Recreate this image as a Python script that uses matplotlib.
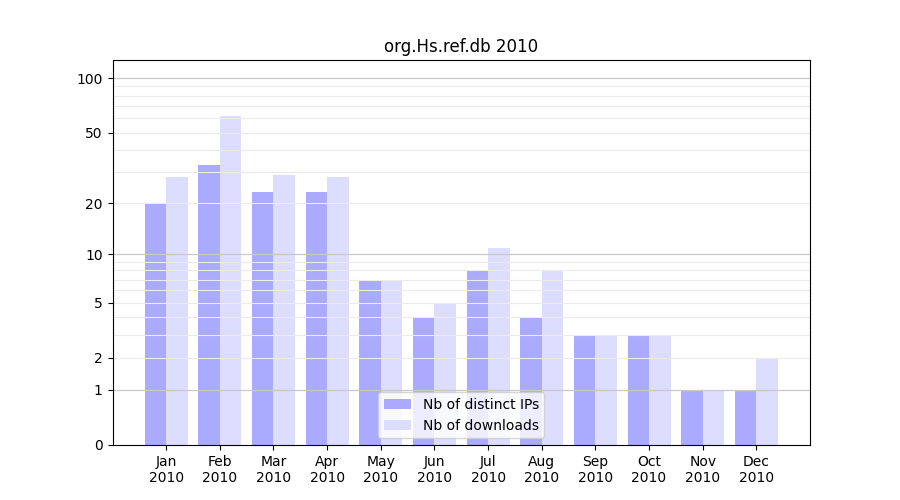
import numpy as np
import matplotlib
matplotlib.use("Agg")
import matplotlib.pyplot as plt

months = ["Jan", "Feb", "Mar", "Apr", "May", "Jun",
          "Jul", "Aug", "Sep", "Oct", "Nov", "Dec"]
year = "2010"
distinct_ips = [20, 33, 23, 23, 7, 4, 8, 4, 3, 3, 1, 1]
downloads = [28, 62, 29, 28, 7, 5, 11, 8, 3, 3, 1, 2]
ytick_values = [0, 1, 2, 5, 10, 20, 50, 100]


def fwd(y):
    return np.log10(1 + np.clip(y, 0, None))


def inv(y):
    return 10 ** y - 1


fig, ax = plt.subplots(figsize=(9, 5), dpi=100)
ax.set_yscale("function", functions=(fwd, inv))

x = np.arange(1, len(months) + 1)
w = 0.4
ax.bar(x - w / 2, distinct_ips, width=w, color="#aaaaff", label="Nb of distinct IPs")
ax.bar(x + w / 2, downloads, width=w, color="#ddddff", label="Nb of downloads")

# grid lines: light ones for 2..9, 20..90; darker at decades
minor_vals = [d * m for d in (1, 10) for m in range(2, 10)]
for v in minor_vals:
    ax.axhline(v, color="#ebebeb", lw=0.8, zorder=1.5)
for v in (1, 10, 100):
    ax.axhline(v, color="#c8c8c8", lw=0.9, zorder=1.6)

ax.set_xlim(0, 13)
ax.set_ylim(0, 126)
ax.set_yticks(ytick_values)
ax.set_yticklabels([str(v) for v in ytick_values])
ax.minorticks_off()
ax.set_xticks(x)
ax.set_xticklabels([f"{m}\n{year}" for m in months])
ax.set_title("org.Hs.ref.db 2010")
ax.legend(loc="lower center")

fig.savefig("out.png", dpi=100)
